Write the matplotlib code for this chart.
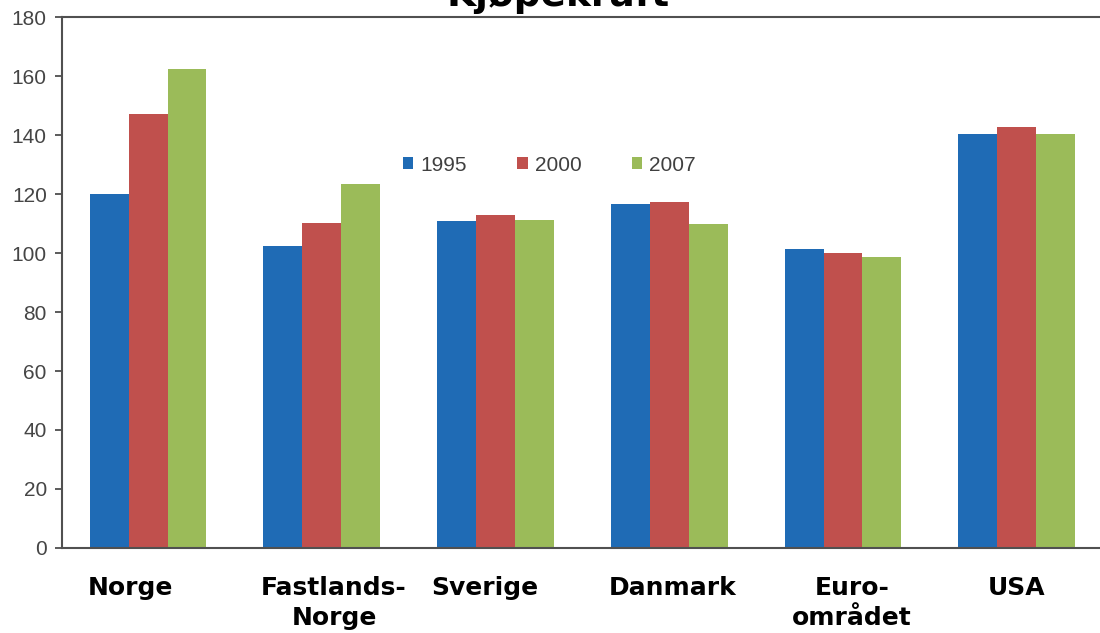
import matplotlib

matplotlib.use("Agg")

import matplotlib.pyplot as plt
import numpy as np

# Kjøpekraft per land, indeks
countries = ["Norge", "Fastlands-\nNorge", "Sverige", "Danmark", "Euro-\nområdet", "USA"]
years = ["1995", "2000", "2007"]
v1995 = [120.0, 102.5, 111.0, 116.7, 101.5, 140.3]
v2000 = [147.0, 110.3, 113.0, 117.2, 100.0, 142.7]
v2007 = [162.5, 123.5, 111.2, 110.0, 98.5, 140.3]
yticks = [0, 20, 40, 60, 80, 100, 120, 140, 160, 180]

COLORS = ["#1F6BB5", "#C0504D", "#9BBB59"]
# small horizontal nudges so the labels sit where the original put them
LABEL_SHIFT = [-0.10, 0.07, -0.06, 0.02, 0.05, 0.0]

fig = plt.figure(figsize=(11, 6.33), dpi=100)
ax = fig.add_axes((0.0564, 0.1343, 0.9627, 0.8388))

x = np.arange(len(countries))
w = 0.224
for i, (vals, year) in enumerate(zip((v1995, v2000, v2007), years)):
    ax.bar(x + (i - 1) * w, vals, width=w, color=COLORS[i], label=year, linewidth=0)

ax.set_xlim(-0.495, 5.6)
ax.set_ylim(0, 180)
ax.set_yticks(yticks)
ax.set_yticklabels([str(t) for t in yticks], fontfamily="Liberation Sans",
                   fontsize=15, color="#454545")
ax.set_xticks(x + np.array(LABEL_SHIFT))
ax.set_xticklabels(countries, fontfamily="DejaVu Sans", fontweight="bold",
                   fontsize=18, color="black", linespacing=1.35)
ax.tick_params(axis="x", length=0, pad=20)
ax.tick_params(axis="y", direction="out", length=5, width=1.2, color="#404040", pad=6)

for side in ("left", "bottom", "top"):
    ax.spines[side].set_color("#505050")
    ax.spines[side].set_linewidth(1.5)
ax.spines["right"].set_visible(False)

leg = ax.legend(loc="center left", bbox_to_anchor=(0.322, 0.721), ncol=3,
                frameon=False, borderpad=0, borderaxespad=0,
                handlelength=0.5, handleheight=0.5, handletextpad=0.35,
                columnspacing=2.4, prop={"family": "Liberation Sans", "size": 15})
for t in leg.get_texts():
    t.set_color("#404040")

# the title sits mostly above the top edge, as in the source image
fig.text(0.507, 0.9905, "Kjøpekraft", ha="center", va="baseline",
         fontfamily="DejaVu Sans", fontweight="bold", fontsize=27)

fig.savefig("out.png", dpi=100)
